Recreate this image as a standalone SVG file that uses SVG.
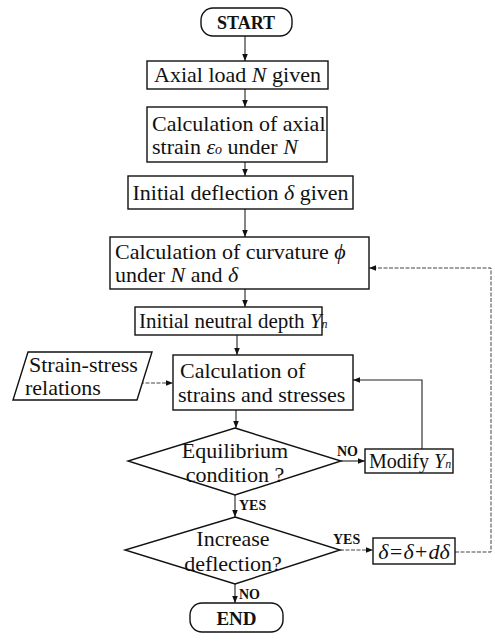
<svg xmlns="http://www.w3.org/2000/svg" width="495" height="641" viewBox="0 0 495 641">
<defs>
<style>
.box{fill:#fff;stroke:#111;stroke-width:1.4}
.t{font-family:"Liberation Serif","Times New Roman",serif;font-size:22px;fill:#111}
.c{text-anchor:middle}
.b{font-weight:bold}
.lab{font-family:"Liberation Serif","Times New Roman",serif;font-size:14px;font-weight:bold;fill:#111}
.i{font-style:italic}
.ln{fill:none;stroke:#222;stroke-width:1.1}
.dl{fill:none;stroke:#444;stroke-width:1;stroke-dasharray:4 1.5}
</style>
<marker id="ah" viewBox="0 0 10 10" refX="10" refY="5" markerWidth="7" markerHeight="7" orient="auto" markerUnits="userSpaceOnUse">
<path d="M0,1 L10,5 L0,9 Z" fill="#111"/>
</marker>
</defs>
<rect width="495" height="641" fill="#fff"/>
<g id="connectors">
<line class="ln" x1="245" y1="36" x2="245" y2="61" marker-end="url(#ah)"/>
<line class="ln" x1="245" y1="89" x2="245" y2="107" marker-end="url(#ah)"/>
<line class="ln" x1="245" y1="162" x2="245" y2="176" marker-end="url(#ah)"/>
<line class="ln" x1="245" y1="209" x2="245" y2="237" marker-end="url(#ah)"/>
<line class="ln" x1="245" y1="289" x2="245" y2="307" marker-end="url(#ah)"/>
<line class="ln" x1="237" y1="335" x2="237" y2="355" marker-end="url(#ah)"/>
<line class="dl" x1="140" y1="383" x2="173" y2="383" marker-end="url(#ah)"/>
<line class="ln" x1="236" y1="410" x2="236" y2="428" marker-end="url(#ah)"/>
<line class="ln" x1="341" y1="461" x2="365" y2="461" marker-end="url(#ah)"/>
<polyline class="ln" points="422,449 422,380 353,380" marker-end="url(#ah)"/>
<line class="ln" x1="235" y1="495" x2="235" y2="517" marker-end="url(#ah)"/>
<line class="dl" x1="340" y1="550" x2="373" y2="550" marker-end="url(#ah)"/>
<polyline class="dl" points="455,552 491,552 491,268 369,268" marker-end="url(#ah)"/>
<line class="ln" x1="235" y1="584" x2="235" y2="603" marker-end="url(#ah)"/>
<text class="lab" x="337" y="456">NO</text>
<text class="lab" x="239" y="510">YES</text>
<text class="lab" x="333" y="544">YES</text>
<text class="lab" x="239" y="599">NO</text>
</g>
<g id="start">
<rect class="box" x="201" y="8" width="91" height="28" rx="12"/>
<text class="t c b" x="246" y="29" style="font-size:18px">START</text>
</g>
<g id="axial-load">
<rect class="box" x="147" y="61" width="181" height="28"/>
<text class="t c" x="237.5" y="82">Axial load <tspan class="i">N</tspan> given</text>
</g>
<g id="axial-strain">
<rect class="box" x="147" y="107" width="180" height="55"/>
<text class="t" x="152" y="131">Calculation of axial</text>
<text class="t" x="152" y="154">strain <tspan class="i">ε</tspan><tspan class="i" style="font-size:14px">o</tspan> under <tspan class="i">N</tspan></text>
</g>
<g id="initial-deflection">
<rect class="box" x="128" y="176" width="225" height="33"/>
<text class="t c" x="240.5" y="200">Initial deflection <tspan class="i">δ</tspan> given</text>
</g>
<g id="curvature">
<rect class="box" x="110" y="237" width="259" height="52"/>
<text class="t" x="115" y="259">Calculation of curvature <tspan class="i">ϕ</tspan></text>
<text class="t" x="115" y="282">under <tspan class="i">N</tspan>  and <tspan class="i">δ</tspan></text>
</g>
<g id="neutral-depth">
<rect class="box" x="135" y="307" width="187" height="28"/>
<text class="t" x="139" y="328" style="font-size:21px">Initial neutral depth <tspan class="i">Y<tspan style="font-size:12px">n</tspan></tspan></text>
</g>
<g id="strain-stress-relations">
<polygon class="box" points="28,352 152,352 137,400 13,400"/>
<text class="t" x="29" y="372">Strain-stress</text>
<text class="t" x="25" y="395">relations</text>
</g>
<g id="strains-stresses">
<rect class="box" x="173" y="355" width="180" height="55"/>
<text class="t" x="180" y="378">Calculation of</text>
<text class="t" x="178" y="402">strains and stresses</text>
</g>
<g id="equilibrium">
<polygon class="box" points="235,428 341,461 235,495 128,461"/>
<text class="t c" x="235" y="458">Equilibrium</text>
<text class="t c" x="235" y="482">condition ?</text>
</g>
<g id="modify">
<rect class="box" x="365" y="449" width="88" height="24"/>
<text class="t" x="369" y="468" style="font-size:20px">Modify <tspan class="i">Y<tspan style="font-size:12px">n</tspan></tspan></text>
</g>
<g id="increase-deflection">
<polygon class="box" points="235,517 340,550 235,584 125,550"/>
<text class="t c" x="233" y="546">Increase</text>
<text class="t c" x="233" y="571">deflection?</text>
</g>
<g id="delta-update">
<rect class="box" x="373" y="538" width="82" height="26"/>
<text class="t c i" x="414" y="559">δ=δ+dδ</text>
</g>
<g id="end">
<rect class="box" x="190" y="603" width="93" height="29" rx="12"/>
<text class="t c b" x="236.5" y="625" style="font-size:19px">END</text>
</g>
</svg>
